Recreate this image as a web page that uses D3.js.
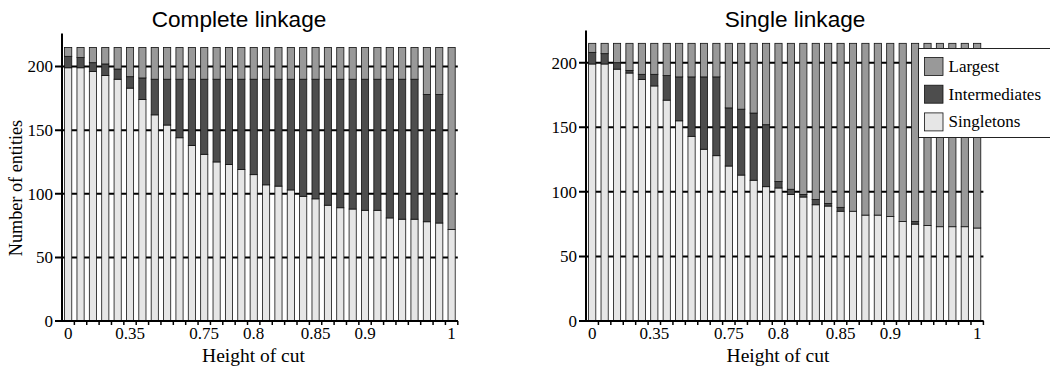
<!DOCTYPE html>
<html>
<head>
<meta charset="utf-8">
<script src="https://cdn.jsdelivr.net/npm/d3@7"></script>
<style>
  body { margin: 0; background: #fff; }
  svg { display: block; }
</style>
</head>
<body>
<div id="chart"></div>
<script>
// 32 cut heights, only some of them get a label on the axis
const nBars = 32;
const tickIdx = [0, 5, 11, 15, 20, 24, 31];
const tickText = ["0", "0.35", "0.75", "0.8", "0.85", "0.9", "1"];
const yTicks = [0, 50, 100, 150, 200];

const keys = ["singletons", "intermediates", "largest"];
const legendText = ["Largest", "Intermediates", "Singletons"];

// Complete linkage
const completeSingletons = [199, 199, 196, 193, 190, 183, 174, 162, 154, 144, 138, 131, 125, 123, 119, 115,
  107, 106, 103, 98, 96, 91, 89, 88, 87, 87, 81, 80, 80, 78, 77, 72];
const completeIntermediates = [9, 8, 7, 9, 8, 9, 17, 28, 36, 46, 52, 59, 65, 67, 71, 75,
  83, 84, 87, 92, 94, 99, 101, 102, 103, 103, 109, 110, 110, 100, 101, 0];
const completeLargest = [7, 8, 12, 13, 17, 23, 24, 25, 25, 25, 25, 25, 25, 25, 25, 25,
  25, 25, 25, 25, 25, 25, 25, 25, 25, 25, 25, 25, 25, 37, 37, 143];

// Single linkage
const singleSingletons = [199, 199, 195, 192, 187, 182, 171, 155, 143, 133, 128, 120, 113, 109, 104, 103,
  98, 96, 90, 89, 85, 85, 82, 82, 81, 77, 75, 74, 73, 73, 73, 72];
const singleIntermediates = [9, 8, 5, 2, 4, 9, 19, 34, 46, 56, 61, 45, 51, 52, 48, 5,
  4, 2, 4, 2, 3, 0, 0, 0, 0, 0, 2, 0, 0, 0, 0, 0];
const singleLargest = [7, 8, 15, 21, 24, 24, 25, 26, 26, 26, 26, 50, 51, 54, 63, 107,
  113, 117, 121, 124, 127, 130, 133, 133, 134, 138, 138, 141, 142, 142, 142, 143];

const colors = { singletons: "#e6e6e6", intermediates: "#4d4d4d", largest: "#999999" };
const serif = "'Liberation Serif', 'DejaVu Serif', serif";
const sans = "'Liberation Sans', Arial, sans-serif";

const width = 1050, height = 368;

const svg = d3.select("#chart").append("svg")
  .attr("width", width)
  .attr("height", height);

function toRows(s, i, l) {
  return d3.range(nBars).map(k => ({ idx: k, singletons: s[k], intermediates: i[k], largest: l[k] }));
}

function drawPanel(opt) {
  const data = toRows(opt.s, opt.i, opt.l);

  const x = d3.scaleBand()
    .domain(d3.range(nBars))
    .range([opt.x0, opt.x1])
    .paddingInner(0.42)
    .paddingOuter(0.21);

  const y = d3.scaleLinear()
    .domain([0, 200])
    .range([opt.yBottom, opt.y200]);

  const g = svg.append("g");

  // horizontal reference lines (behind the bars), extended left as ticks
  g.selectAll(".grid")
    .data(yTicks)
    .enter()
    .append("line")
    .attr("x1", opt.x0 - 7)
    .attr("x2", opt.x1)
    .attr("y1", d => y(d))
    .attr("y2", d => y(d))
    .attr("stroke", "#000")
    .attr("stroke-width", 2);

  // stacked bars
  const stacked = d3.stack().keys(keys)(data);
  g.selectAll(".layer")
    .data(stacked)
    .enter()
    .append("g")
    .attr("fill", d => colors[d.key])
    .selectAll("rect")
    .data(d => d)
    .enter()
    .append("rect")
    .attr("x", d => x(d.data.idx))
    .attr("y", d => y(d[1]))
    .attr("width", x.bandwidth())
    .attr("height", d => y(d[0]) - y(d[1]))
    .attr("stroke", "#111")
    .attr("stroke-width", 0.8);

  // y axis labels
  const yAxis = g.append("g")
    .attr("transform", "translate(" + opt.x0 + ",0)")
    .call(d3.axisLeft(y).tickValues(yTicks).tickSize(0).tickPadding(9));
  yAxis.select(".domain").remove();
  yAxis.selectAll("text")
    .attr("font-family", serif)
    .attr("font-size", 17)
    .attr("fill", "#000");

  // axis lines
  g.append("line")
    .attr("x1", opt.x0).attr("x2", opt.x0)
    .attr("y1", y(opt.yTop)).attr("y2", y(0) + 1)
    .attr("stroke", "#000").attr("stroke-width", 2);
  g.append("line")
    .attr("x1", opt.x0).attr("x2", opt.x1)
    .attr("y1", y(0)).attr("y2", y(0))
    .attr("stroke", "#000").attr("stroke-width", 2);

  // small ticks between bars
  g.selectAll(".xtick")
    .data(d3.range(1, nBars + 1))
    .enter()
    .append("line")
    .attr("x1", d => x(d - 1) + x.bandwidth() + (x.step() - x.bandwidth()) / 2)
    .attr("x2", d => x(d - 1) + x.bandwidth() + (x.step() - x.bandwidth()) / 2)
    .attr("y1", y(0))
    .attr("y2", y(0) + 4)
    .attr("stroke", "#000")
    .attr("stroke-width", 1.5);

  // x labels at some bars
  const xAxis = g.append("g")
    .attr("transform", "translate(0," + y(0) + ")")
    .call(d3.axisBottom(x).tickValues(tickIdx).tickSize(0).tickPadding(6)
      .tickFormat(d => tickText[tickIdx.indexOf(d)]));
  xAxis.select(".domain").remove();
  xAxis.selectAll("text")
    .attr("font-family", serif)
    .attr("font-size", 17)
    .attr("fill", "#000");

  // titles
  g.append("text")
    .attr("x", opt.titleX)
    .attr("y", 26.5)
    .attr("text-anchor", "middle")
    .attr("font-family", sans)
    .attr("font-size", 22.6)
    .text(opt.title);

  g.append("text")
    .attr("x", opt.xLabelX)
    .attr("y", 361.5)
    .attr("text-anchor", "middle")
    .attr("font-family", serif)
    .attr("font-size", 19.5)
    .text("Height of cut");

  return { x, y };
}

drawPanel({
  s: completeSingletons, i: completeIntermediates, l: completeLargest,
  x0: 62, x1: 457.8, yBottom: 321, y200: 66.5, yTop: 226,
  title: "Complete linkage", titleX: 239, xLabelX: 253.5
});

drawPanel({
  s: singleSingletons, i: singleIntermediates, l: singleLargest,
  x0: 586, x1: 983.4, yBottom: 321, y200: 62.7, yTop: 225,
  title: "Single linkage", titleX: 795, xLabelX: 778
});

// y axis title (left panel only)
svg.append("text")
  .attr("transform", "translate(21.5,188) rotate(-90)")
  .attr("text-anchor", "middle")
  .attr("font-family", serif)
  .attr("font-size", 18.2)
  .text("Number of entities");

// legend on the right panel
const legend = svg.append("g").attr("transform", "translate(918.5,48.5)");
legend.append("rect")
  .attr("width", 140)
  .attr("height", 89)
  .attr("fill", "#fff")
  .attr("stroke", "#222")
  .attr("stroke-width", 1);

const legendKeys = ["largest", "intermediates", "singletons"];
const item = legend.selectAll(".item")
  .data(legendKeys)
  .enter()
  .append("g")
  .attr("transform", (d, k) => "translate(6," + (9 + k * 27.7) + ")");
item.append("rect")
  .attr("width", 18.5)
  .attr("height", 18)
  .attr("fill", d => colors[d])
  .attr("stroke", "#111")
  .attr("stroke-width", 0.8);
item.append("text")
  .attr("x", 24)
  .attr("y", 14.3)
  .attr("font-family", serif)
  .attr("font-size", 17)
  .text((d, k) => legendText[k]);
</script>
</body>
</html>
